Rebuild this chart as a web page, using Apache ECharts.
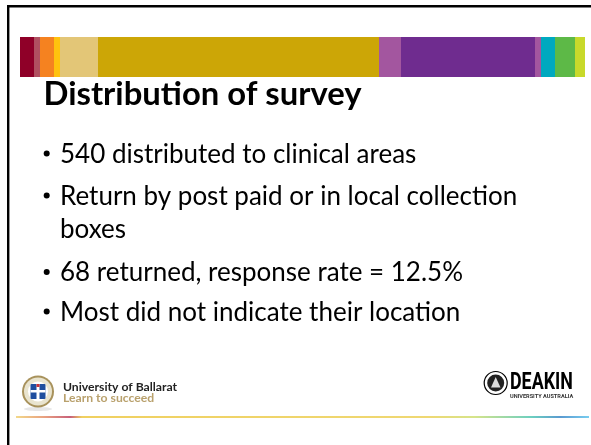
<!DOCTYPE html>
<html><head><meta charset="utf-8">
<style>html,body{margin:0;padding:0;background:#fff}#c{width:591px;height:445px}</style>
<script src="https://cdn.jsdelivr.net/npm/echarts@6/dist/echarts.min.js"></script>
</head><body><div id="c"></div>
<script>
const segmentWidths=[14,6,14,6,38,281,22,134,6,14,20,10];
const segmentColors=['#8F0028','#B05060','#F58220','#FFC20E','#E3C677','#CCA606','#A3569F','#6F2C8F','#A3569F','#00A9BF','#5DB947','#C8D92B'];
const bandStart=20;
const titleText='Distribution of survey';
const bulletLines=[
 {t:'540 distributed to clinical areas',y:155,by:153.5,b:true},
 {t:'Return by post paid or in local collection',y:197,by:195.5,b:true},
 {t:'boxes',y:230,b:false},
 {t:'68 returned, response rate = 12.5%',y:273,by:272,b:true},
 {t:'Most did not indicate their location',y:313,by:311.5,b:true}];
const F='Lato, "Open Sans", sans-serif';
const chart=echarts.init(document.getElementById('c'),null,{renderer:'canvas'});
const series=[{type:'bar',stack:'b',data:[bandStart],barWidth:'100%',silent:true,itemStyle:{color:'rgba(0,0,0,0)'}}]
 .concat(segmentWidths.map((w,i)=>({type:'bar',stack:'b',data:[w],silent:true,itemStyle:{color:segmentColors[i]}})));
const g=[];
g.push({type:'rect',shape:{x:7,y:5,width:584,height:2.4},style:{fill:'#000'}});
g.push({type:'rect',shape:{x:7,y:5,width:2.4,height:440},style:{fill:'#000'}});
g.push({type:'text',style:{text:titleText,x:43.5,y:94.5,font:'bold 32.8px '+F,fill:'#000',textVerticalAlign:'middle'}});
bulletLines.forEach(l=>{
 if(l.b) g.push({type:'circle',shape:{cx:46.7,cy:l.by,r:3},style:{fill:'#000'}});
 g.push({type:'text',style:{text:l.t,x:60,y:l.y,font:'26px '+F,fill:'#000',textVerticalAlign:'middle'}});
});
g.push({type:'rect',shape:{x:16,y:416,width:573,height:2},style:{fill:{type:'linear',x:0,y:0,x2:1,y2:0,colorStops:[
 {offset:0,color:'#F3D98A'},{offset:.05,color:'#E8A080'},{offset:.095,color:'#C8607A'},{offset:.115,color:'#F0D060'},{offset:.72,color:'#EFD873'},{offset:.8,color:'#D6E48A'},{offset:.9,color:'#6CCFC0'},{offset:.95,color:'#5A9AD0'},{offset:1,color:'#78CDF0'}]}}});
// Ballarat logo
g.push({type:'ellipse',shape:{cx:38,cy:409,rx:14,ry:2},style:{fill:'#ddd',opacity:.7}});
g.push({type:'circle',shape:{cx:38,cy:391.5,r:16},style:{fill:'#A8925C'}});
g.push({type:'circle',shape:{cx:38,cy:391.5,r:14},style:{fill:'#E9E4CF'}});
g.push({type:'circle',shape:{cx:38,cy:391.5,r:10},style:{fill:'#fff'}});
g.push({type:'rect',shape:{x:30.5,y:384,width:15,height:15,r:1},style:{fill:'#1F4E9E'}});
g.push({type:'rect',shape:{x:30.5,y:390,width:15,height:2.5},style:{fill:'#fff'}});
g.push({type:'rect',shape:{x:36.5,y:384,width:3,height:15},style:{fill:'#fff'}});
g.push({type:'rect',shape:{x:36.5,y:384,width:3,height:3},style:{fill:'#C8323A'}});
g.push({type:'text',style:{text:'University of Ballarat',x:63,y:387,font:'bold 12.2px '+F,fill:'#222',textVerticalAlign:'middle'}});
g.push({type:'text',style:{text:'Learn to succeed',x:63,y:398.5,font:'bold 12.2px '+F,fill:'#B9A16D',textVerticalAlign:'middle'}});
// Deakin logo
g.push({type:'circle',shape:{cx:495.7,cy:383,r:11.5},style:{fill:'#fff',stroke:'#000',lineWidth:1.2}});
g.push({type:'circle',shape:{cx:495.7,cy:383,r:8.5},style:{fill:'#222'}});
g.push({type:'polygon',shape:{points:[[495.7,377],[500.5,387.5],[491,387.5]]},style:{fill:'#ddd'}});
g.push({type:'text',x:510,y:383.5,scaleX:.76,style:{text:'DEAKIN',x:0,y:0,font:'bold 23.5px Roboto, sans-serif',fill:'#000',textVerticalAlign:'middle'}});
g.push({type:'text',style:{text:'UNIVERSITY AUSTRALIA',x:510,y:397,font:'bold 5.6px Roboto, sans-serif',fill:'#333',textVerticalAlign:'middle'}});
chart.setOption({
 animation:false,
 grid:{left:0,right:0,top:37,height:40},
 xAxis:{type:'value',min:0,max:591,show:false},
 yAxis:{type:'category',data:['band'],show:false},
 series:series,
 graphic:g
});
</script></body></html>
